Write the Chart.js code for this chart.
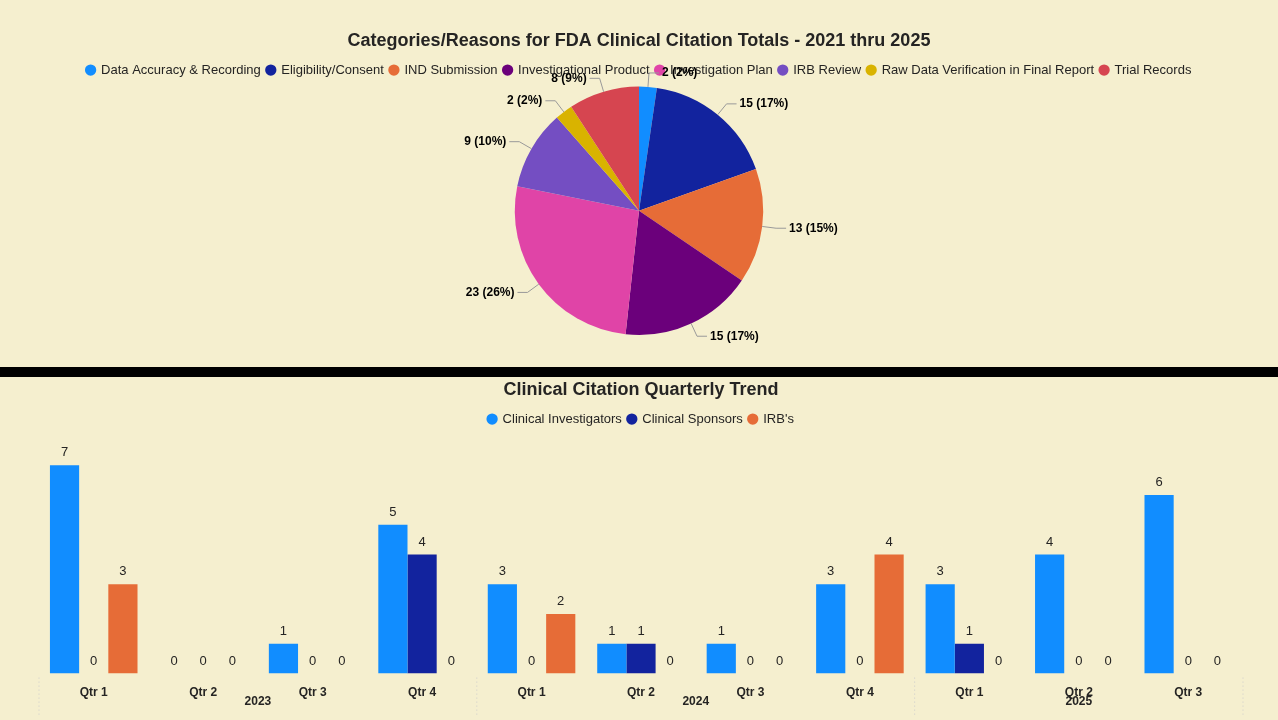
<!DOCTYPE html>
<html><head><meta charset="utf-8">
<script src="https://cdn.jsdelivr.net/npm/chart.js@4/dist/chart.umd.min.js"></script>
<style>
body{margin:0;background:#F5EFCF;width:1278px;height:720px;overflow:hidden;font-family:Arial,"Liberation Sans",sans-serif}
#top{position:absolute;left:0;top:0;width:1278px;height:367px}
#sep{position:absolute;left:0;top:367px;width:1278px;height:10px;background:#000}
#bot{position:absolute;left:0;top:377px;width:1278px;height:343px}
</style></head><body>
<div id="top"><canvas id="pieChart"></canvas></div>
<div id="sep"></div>
<div id="bot"><canvas id="barChart"></canvas></div>
<script>
const categories = ['Data Accuracy & Recording', 'Eligibility/Consent', 'IND Submission', 'Investigational Product', 'Investigation Plan', 'IRB Review', 'Raw Data Verification in Final Report', 'Trial Records'];
const categoryTotals = [2, 15, 13, 15, 23, 9, 2, 8];
const pieColors = ['#118DFF', '#12239E', '#E66C37', '#6B007B', '#E044A7', '#744EC2', '#D9B300', '#D64550'];

const quarters = ['Qtr 1', 'Qtr 2', 'Qtr 3', 'Qtr 4', 'Qtr 1', 'Qtr 2', 'Qtr 3', 'Qtr 4', 'Qtr 1', 'Qtr 2', 'Qtr 3'];
const years = ['2023', '2024', '2025'];
const yearSpans = [4, 4, 3];
const investigators = [7, 0, 1, 5, 3, 1, 1, 3, 3, 4, 6];
const sponsors = [0, 0, 0, 4, 0, 1, 0, 0, 1, 0, 0];
const irbs = [3, 0, 0, 0, 2, 0, 0, 4, 0, 0, 0];

Chart.defaults.font.family = 'Arial, "Liberation Sans", sans-serif';
Chart.defaults.color = '#000';

// outside labels with leader lines for the pie
const pieLabels = {
    id: 'pieLabels',
    afterDatasetsDraw(chart) {
        const ctx = chart.ctx;
        const data = chart.data.datasets[0].data;
        const total = data.reduce((a, b) => a + b, 0);
        ctx.save();
        ctx.font = 'bold 12px Arial';
        ctx.strokeStyle = '#999';
        ctx.lineWidth = 1;
        chart.getDatasetMeta(0).data.forEach((arc, i) => {
            const mid = (arc.startAngle + arc.endAngle) / 2;
            const r = arc.outerRadius;
            const x1 = arc.x + Math.cos(mid) * r, y1 = arc.y + Math.sin(mid) * r;
            const x2 = arc.x + Math.cos(mid) * (r + 14), y2 = arc.y + Math.sin(mid) * (r + 14);
            const right = Math.cos(mid) >= 0;
            const x3 = x2 + (right ? 10 : -10);
            ctx.beginPath(); ctx.moveTo(x1, y1); ctx.lineTo(x2, y2); ctx.lineTo(x3, y2); ctx.stroke();
            const txt = data[i] + ' (' + Math.round(data[i] / total * 100) + '%)';
            ctx.fillStyle = '#000';
            ctx.textAlign = right ? 'left' : 'right';
            ctx.textBaseline = 'middle';
            ctx.fillText(txt, x3 + (right ? 3 : -3), y2);
        });
        ctx.restore();
    }
};

new Chart(document.getElementById('pieChart').getContext('2d'), {
    type: 'pie',
    data: {
        labels: categories,
        datasets: [{ data: categoryTotals, backgroundColor: pieColors, borderWidth: 0 }]
    },
    options: {
        responsive: true, maintainAspectRatio: false, animation: false,
        layout: { padding: { top: 30, bottom: 32 } },
        plugins: {
            title: { display: true, text: 'Categories/Reasons for FDA Clinical Citation Totals - 2021 thru 2025', font: { size: 18, weight: 'bold' }, color: '#252423', padding: { top: 0, bottom: 6 } },
            legend: { position: 'top', labels: { usePointStyle: true, pointStyle: 'circle', boxWidth: 8, boxHeight: 8, padding: 6, font: { size: 13 }, color: '#252423' } },
            tooltip: { enabled: false }
        }
    },
    plugins: [pieLabels]
});

// value labels above bars, year labels under the axis
const barExtras = {
    id: 'barExtras',
    afterDatasetsDraw(chart) {
        const ctx = chart.ctx;
        ctx.save();
        ctx.font = '13px Arial';
        ctx.fillStyle = '#252423';
        ctx.textAlign = 'center';
        ctx.textBaseline = 'bottom';
        chart.data.datasets.forEach((ds, d) => {
            chart.getDatasetMeta(d).data.forEach((bar, i) => {
                ctx.fillText(String(ds.data[i]), bar.x, bar.y - 6);
            });
        });
        const xs = chart.scales.x;
        const step = xs.getPixelForValue(1) - xs.getPixelForValue(0);
        let start = 0;
        ctx.font = 'bold 12px Arial';
        ctx.strokeStyle = '#ccc';
        ctx.setLineDash([1, 3]);
        const bottom = chart.chartArea.bottom;
        years.forEach((y, k) => {
            const left = xs.getPixelForValue(start) - step / 2;
            const right = xs.getPixelForValue(start + yearSpans[k] - 1) + step / 2;
            ctx.textBaseline = 'middle';
            ctx.fillText(y, (left + right) / 2, bottom + 28);
            ctx.beginPath(); ctx.moveTo(left, bottom + 4); ctx.lineTo(left, bottom + 42); ctx.stroke();
            if (k === years.length - 1) { ctx.beginPath(); ctx.moveTo(right, bottom + 4); ctx.lineTo(right, bottom + 42); ctx.stroke(); }
            start += yearSpans[k];
        });
        ctx.restore();
    }
};

new Chart(document.getElementById('barChart').getContext('2d'), {
    type: 'bar',
    data: {
        labels: quarters,
        datasets: [
            { label: 'Clinical Investigators', data: investigators, backgroundColor: '#118DFF' },
            { label: 'Clinical Sponsors', data: sponsors, backgroundColor: '#12239E' },
            { label: "IRB's", data: irbs, backgroundColor: '#E66C37' }
        ]
    },
    options: {
        responsive: true, maintainAspectRatio: false, animation: false,
        layout: { padding: { left: 39, right: 35, bottom: 16 } },
        datasets: { bar: { categoryPercentage: 0.8, barPercentage: 1 } },
        scales: {
            x: { grid: { display: false }, border: { display: false }, ticks: { font: { size: 12, weight: 'bold' }, color: '#252423', padding: 4 } },
            y: { display: false, min: 0, max: 8 }
        },
        plugins: {
            title: { display: true, text: 'Clinical Citation Quarterly Trend', font: { size: 18, weight: 'bold' }, color: '#252423', padding: { top: 2, bottom: 6 } },
            legend: { position: 'top', labels: { usePointStyle: true, pointStyle: 'circle', boxWidth: 8, boxHeight: 8, padding: 6, font: { size: 13 }, color: '#252423' } },
            tooltip: { enabled: false }
        }
    },
    plugins: [barExtras]
});
</script>
</body></html>
